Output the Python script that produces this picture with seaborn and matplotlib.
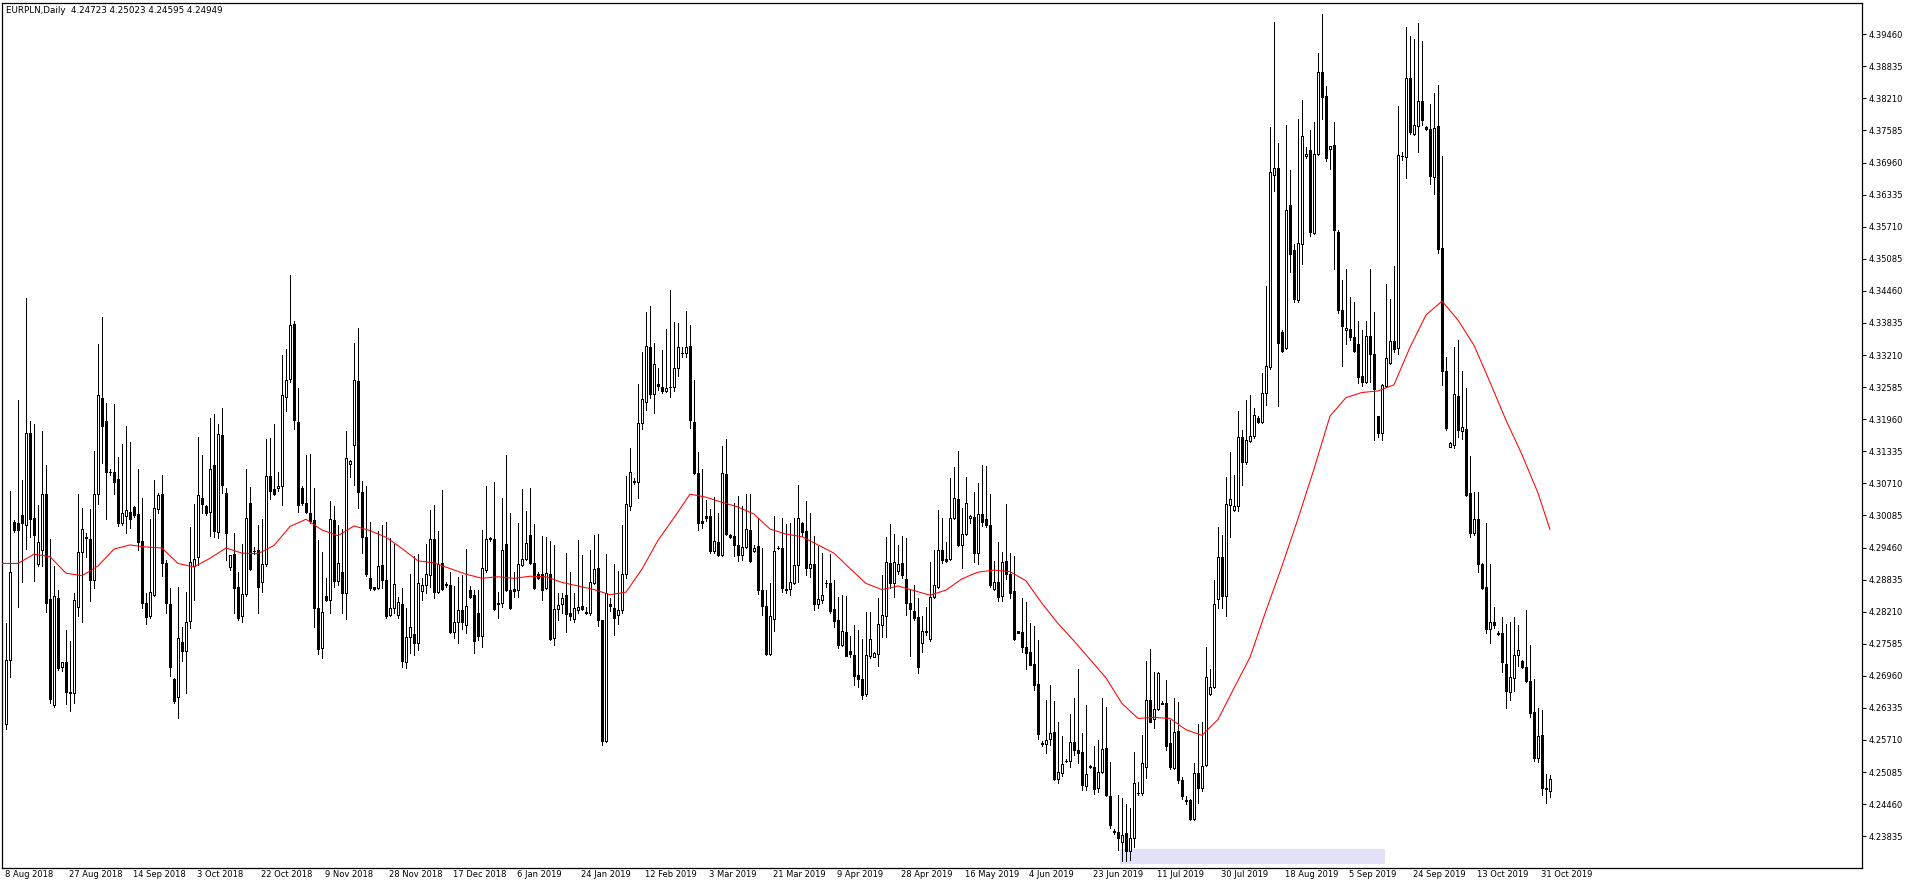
import numpy as np
import pandas as pd
import matplotlib
matplotlib.use("Agg")
import matplotlib.pyplot as plt
import matplotlib.transforms as mtransforms
import seaborn as sns

# EURPLN daily bars, bar 1 (9 Aug 2018) .. bar 387 (4 Nov 2019)
opens = [
    4.2602, 4.2727, 4.2995, 4.2993, 4.3009, 4.2990, 4.3170, 4.3003, 4.2913, 4.2941,
    4.3050, 4.2845, 4.2640, 4.2847, 4.2713, 4.2723, 4.2664, 4.2662, 4.2830, 4.2938,
    4.2965, 4.2962, 4.2882, 4.3050, 4.3237, 4.3192, 4.3093, 4.3093, 4.3080, 4.2993,
    4.3008, 4.3015, 4.3024, 4.3011, 4.2959, 4.2838, 4.2813, 4.2853, 4.3021, 4.3050,
    4.2915, 4.2836, 4.2690, 4.2654, 4.2761, 4.2745, 4.2802, 4.2909, 4.2928, 4.3042,
    4.3026, 4.3015, 4.3106, 4.2977, 4.3165, 4.3052, 4.2908, 4.2934, 4.2869, 4.2812,
    4.2855, 4.3032, 4.2940, 4.2941, 4.2878, 4.2913, 4.3085, 4.3059, 4.3061, 4.3065,
    4.3240, 4.3274, 4.3381, 4.3190, 4.3061, 4.3032, 4.3013, 4.3000, 4.2828, 4.2750,
    4.2852, 4.2844, 4.3000, 4.2880, 4.2898, 4.2857, 4.3108, 4.3145, 4.3270, 4.3054,
    4.2967, 4.2886, 4.2869, 4.2867, 4.2912, 4.2883, 4.2815, 4.2828, 4.2815, 4.2836,
    4.2722, 4.2772, 4.2777, 4.2759, 4.2862, 4.2872, 4.2892, 4.2962, 4.2860, 4.2915,
    4.2874, 4.2873, 4.2781, 4.2800, 4.2824, 4.2795, 4.2864, 4.2853, 4.2819, 4.2774,
    4.2903, 4.2963, 4.2962, 4.2838, 4.2838, 4.2953, 4.2864, 4.2865, 4.2864, 4.2911,
    4.2923, 4.2970, 4.2915, 4.2894, 4.2894, 4.2868, 4.2894, 4.2769, 4.2826, 4.2835,
    4.2853, 4.2819, 4.2806, 4.2825, 4.2832, 4.2820, 4.2818, 4.2877, 4.2906, 4.2804,
    4.2569, 4.2835, 4.2828, 4.2815, 4.2825, 4.2894, 4.3026, 4.3074, 4.3074, 4.3188,
    4.3230, 4.3336, 4.3245, 4.3265, 4.3258, 4.3250, 4.3258, 4.3258, 4.3295, 4.3325,
    4.3325, 4.3339, 4.3190, 4.3092, 4.2997, 4.3008, 4.3008, 4.2939, 4.2957, 4.2931,
    4.3090, 4.2970, 4.2968, 4.2951, 4.2931, 4.2947, 4.2981, 4.2939, 4.2948, 4.2864,
    4.2832, 4.2739, 4.2807, 4.2946, 4.2946, 4.2863, 4.2866, 4.2877, 4.2911, 4.2993,
    4.2978, 4.2907, 4.2913, 4.2835, 4.2844, 4.2877, 4.2877, 4.2826, 4.2805, 4.2756,
    4.2782, 4.2745, 4.2737, 4.2698, 4.2690, 4.2660, 4.2735, 4.2733, 4.2739, 4.2795,
    4.2813, 4.2915, 4.2876, 4.2901, 4.2915, 4.2884, 4.2838, 4.2822, 4.2810, 4.2759,
    4.2784, 4.2767, 4.2850, 4.2870, 4.2941, 4.2923, 4.2923, 4.3003, 4.3040, 4.2950,
    4.2972, 4.3003, 4.3006, 4.2936, 4.3012, 4.3001, 4.2990, 4.2866, 4.2878, 4.2852,
    4.2920, 4.2894, 4.2861, 4.2783, 4.2781, 4.2753, 4.2742, 4.2720, 4.2680, 4.2565,
    4.2563, 4.2573, 4.2586, 4.2495, 4.2506, 4.2531, 4.2531, 4.2568, 4.2552, 4.2547,
    4.2481, 4.2521, 4.2519, 4.2477, 4.2508, 4.2555, 4.2462, 4.2393, 4.2392, 4.2373,
    4.2389, 4.2355, 4.2380, 4.2467, 4.2467, 4.2519, 4.2649, 4.2612, 4.2631, 4.2644,
    4.2644, 4.2565, 4.2516, 4.2588, 4.2494, 4.2455, 4.2454, 4.2418, 4.2507, 4.2478,
    4.2523, 4.2661, 4.2675, 4.2845, 4.2928, 4.2851, 4.3029, 4.3020, 4.3027, 4.3161,
    4.3112, 4.3153, 4.3164, 4.3199, 4.3191, 4.3247, 4.3297, 4.3672, 4.3686, 4.3366,
    4.3334, 4.3613, 4.3526, 4.3429, 4.3537, 4.3708, 4.3721, 4.3559, 4.3712, 4.3872,
    4.3826, 4.3723, 4.3731, 4.3561, 4.3409, 4.3369, 4.3372, 4.3356, 4.3342, 4.3280,
    4.3269, 4.3358, 4.3323, 4.3202, 4.3170, 4.3260, 4.3305, 4.3348, 4.3335, 4.3709,
    4.3706, 4.3860, 4.3751, 4.3768, 4.3816, 4.3766, 4.3761, 4.3668, 4.3768, 4.3530,
    4.3290, 4.3142, 4.3145, 4.3241, 4.3172, 4.3177, 4.3052, 4.2974, 4.3001, 4.2913,
    4.2870, 4.2787, 4.2800, 4.2780, 4.2780, 4.2719, 4.2664, 4.2692, 4.2736, 4.2724,
    4.2714, 4.2686, 4.2626, 4.2535, 4.2581, 4.2477, 4.24723,
]
highs = [
    4.2798, 4.3057, 4.2999, 4.3233, 4.3078, 4.3433, 4.3193, 4.3187, 4.3029, 4.3173,
    4.3107, 4.2963, 4.2909, 4.2863, 4.2723, 4.2786, 4.2763, 4.2857, 4.3050, 4.3023,
    4.2975, 4.3021, 4.3134, 4.3342, 4.3396, 4.3227, 4.3098, 4.3226, 4.3123, 4.3147,
    4.3183, 4.3151, 4.3027, 4.3099, 4.3042, 4.2857, 4.3001, 4.3078, 4.3053, 4.3087,
    4.2922, 4.2868, 4.2691, 4.2870, 4.2792, 4.2860, 4.2985, 4.3030, 4.3161, 4.3126,
    4.3029, 4.3198, 4.3207, 4.3187, 4.3217, 4.3061, 4.2932, 4.2974, 4.2899, 4.2952,
    4.3098, 4.3063, 4.2947, 4.2990, 4.3001, 4.3157, 4.3159, 4.3187, 4.3093, 4.3321,
    4.3333, 4.3477, 4.3387, 4.3256, 4.3065, 4.3126, 4.3128, 4.3061, 4.2961, 4.2937,
    4.2886, 4.3037, 4.3027, 4.2989, 4.2982, 4.3172, 4.3117, 4.3345, 4.3373, 4.3076,
    4.3066, 4.2995, 4.2870, 4.2978, 4.2989, 4.2995, 4.2964, 4.2953, 4.2849, 4.2867,
    4.2828, 4.2894, 4.2929, 4.2933, 4.2886, 4.2953, 4.3019, 4.3029, 4.2978, 4.3058,
    4.2878, 4.2899, 4.2871, 4.2889, 4.2892, 4.2944, 4.2871, 4.2863, 4.2863, 4.2980,
    4.3066, 4.2967, 4.3074, 4.2860, 4.3042, 4.3126, 4.3014, 4.2899, 4.2994, 4.3060,
    4.3018, 4.3061, 4.2991, 4.2899, 4.2968, 4.2966, 4.2958, 4.2951, 4.2857, 4.2857,
    4.2935, 4.2898, 4.2857, 4.2960, 4.2931, 4.2831, 4.2942, 4.2971, 4.2972, 4.2804,
    4.2934, 4.2848, 4.2913, 4.2900, 4.2990, 4.3086, 4.3140, 4.3081, 4.3265, 4.3326,
    4.3404, 4.3416, 4.3345, 4.3295, 4.3331, 4.3371, 4.3448, 4.3385, 4.3384, 4.3336,
    4.3407, 4.3380, 4.3273, 4.3133, 4.3099, 4.3039, 4.3021, 4.3044, 4.3014, 4.3144,
    4.3157, 4.2972, 4.3033, 4.3046, 4.3026, 4.3050, 4.3050, 4.2950, 4.3003, 4.2945,
    4.2864, 4.2877, 4.3007, 4.2948, 4.3003, 4.2992, 4.2993, 4.3003, 4.3068, 4.2996,
    4.3036, 4.3014, 4.2968, 4.2949, 4.2935, 4.2883, 4.2933, 4.2883, 4.2850, 4.2853,
    4.2851, 4.2774, 4.2795, 4.2785, 4.2767, 4.2820, 4.2820, 4.2743, 4.2847, 4.2892,
    4.2967, 4.2992, 4.2972, 4.2951, 4.2969, 4.2964, 4.2864, 4.2873, 4.2847, 4.2813,
    4.2831, 4.2918, 4.2941, 4.3019, 4.3003, 4.2957, 4.3081, 4.3102, 4.3134, 4.3022,
    4.3084, 4.3009, 4.3055, 4.3071, 4.3106, 4.3105, 4.3050, 4.2920, 4.2957, 4.2938,
    4.3031, 4.2936, 4.2930, 4.2784, 4.2847, 4.2840, 4.2798, 4.2794, 4.2766, 4.2569,
    4.2649, 4.2678, 4.2647, 4.2606, 4.2578, 4.2533, 4.2622, 4.2652, 4.2710, 4.2584,
    4.2640, 4.2523, 4.2559, 4.2571, 4.2652, 4.2635, 4.2529, 4.2397, 4.2464, 4.2458,
    4.2447, 4.2438, 4.2547, 4.2490, 4.2581, 4.2724, 4.2748, 4.2704, 4.2704, 4.2647,
    4.2688, 4.2610, 4.2652, 4.2645, 4.2499, 4.2461, 4.2456, 4.2526, 4.2602, 4.2607,
    4.2753, 4.2710, 4.2883, 4.2986, 4.2970, 4.3083, 4.3132, 4.3088, 4.3211, 4.3175,
    4.3234, 4.3243, 4.3218, 4.3202, 4.3285, 4.3456, 4.3766, 4.3969, 4.3734, 4.3369,
    4.3769, 4.3681, 4.3537, 4.3780, 4.3818, 4.3726, 4.3759, 4.3775, 4.3910, 4.3986,
    4.3845, 4.3729, 4.3775, 4.3564, 4.3467, 4.3488, 4.3434, 4.3424, 4.3388, 4.3370,
    4.3388, 4.3489, 4.3404, 4.3202, 4.3265, 4.3459, 4.3431, 4.3494, 4.3806, 4.3716,
    4.3960, 4.3942, 4.3937, 4.3967, 4.3932, 4.3768, 4.3811, 4.3831, 4.3847, 4.3709,
    4.3318, 4.3152, 4.3336, 4.3350, 4.3290, 4.3256, 4.3125, 4.3055, 4.3055, 4.2916,
    4.2994, 4.2913, 4.2830, 4.2783, 4.2810, 4.2797, 4.2800, 4.2810, 4.2795, 4.2726,
    4.2825, 4.2757, 4.2689, 4.2634, 4.2629, 4.2505, 4.25023,
]
lows = [
    4.2592, 4.2694, 4.2977, 4.2831, 4.2878, 4.2944, 4.2966, 4.2880, 4.2909, 4.2910,
    4.2821, 4.2643, 4.2636, 4.2708, 4.2706, 4.2641, 4.2627, 4.2644, 4.2812, 4.2800,
    4.2928, 4.2841, 4.2867, 4.3030, 4.3110, 4.3001, 4.3087, 4.3050, 4.2987, 4.2990,
    4.2974, 4.2984, 4.3006, 4.2941, 4.2828, 4.2797, 4.2808, 4.2851, 4.3013, 4.2891,
    4.2818, 4.2695, 4.2643, 4.2614, 4.2724, 4.2662, 4.2789, 4.2844, 4.2912, 4.3013,
    4.3010, 4.2969, 4.2966, 4.2964, 4.3052, 4.2922, 4.2902, 4.2819, 4.2805, 4.2800,
    4.2851, 4.2902, 4.2934, 4.2818, 4.2860, 4.2909, 4.3040, 4.3048, 4.3057, 4.3029,
    4.3211, 4.3269, 4.3176, 4.3016, 4.3029, 4.3013, 4.2993, 4.2792, 4.2739, 4.2730,
    4.2841, 4.2819, 4.2870, 4.2873, 4.2818, 4.2806, 4.3084, 4.3067, 4.3023, 4.2935,
    4.2891, 4.2863, 4.2863, 4.2865, 4.2867, 4.2808, 4.2812, 4.2818, 4.2808, 4.2714,
    4.2711, 4.2740, 4.2737, 4.2746, 4.2844, 4.2857, 4.2870, 4.2847, 4.2857, 4.2863,
    4.2870, 4.2779, 4.2769, 4.2759, 4.2788, 4.2779, 4.2847, 4.2741, 4.2766, 4.2753,
    4.2899, 4.2959, 4.2824, 4.2809, 4.2831, 4.2862, 4.2827, 4.2850, 4.2850, 4.2909,
    4.2922, 4.2914, 4.2866, 4.2884, 4.2844, 4.2866, 4.2766, 4.2757, 4.2805, 4.2818,
    4.2782, 4.2805, 4.2801, 4.2818, 4.2824, 4.2816, 4.2815, 4.2874, 4.2793, 4.2562,
    4.2567, 4.2822, 4.2776, 4.2796, 4.2818, 4.2887, 4.3020, 4.3070, 4.3042, 4.3177,
    4.3213, 4.3237, 4.3208, 4.3252, 4.3247, 4.3248, 4.3240, 4.3250, 4.3280, 4.3317,
    4.3317, 4.3179, 4.3090, 4.2981, 4.2984, 4.2997, 4.2935, 4.2935, 4.2930, 4.2930,
    4.2971, 4.2965, 4.2929, 4.2919, 4.2922, 4.2945, 4.2918, 4.2937, 4.2856, 4.2815,
    4.2737, 4.2737, 4.2783, 4.2944, 4.2859, 4.2857, 4.2853, 4.2875, 4.2878, 4.2968,
    4.2892, 4.2889, 4.2824, 4.2828, 4.2837, 4.2870, 4.2819, 4.2792, 4.2750, 4.2754,
    4.2735, 4.2733, 4.2678, 4.2675, 4.2650, 4.2657, 4.2731, 4.2732, 4.2715, 4.2772,
    4.2772, 4.2868, 4.2850, 4.2894, 4.2886, 4.2814, 4.2735, 4.2805, 4.2702, 4.2743,
    4.2776, 4.2764, 4.2847, 4.2868, 4.2915, 4.2918, 4.2922, 4.3001, 4.2948, 4.2907,
    4.2970, 4.2994, 4.2918, 4.2913, 4.2988, 4.2986, 4.2870, 4.2864, 4.2842, 4.2842,
    4.2884, 4.2847, 4.2766, 4.2779, 4.2743, 4.2709, 4.2717, 4.2669, 4.2572, 4.2559,
    4.2545, 4.2561, 4.2493, 4.2488, 4.2500, 4.2529, 4.2519, 4.2542, 4.2526, 4.2473,
    4.2474, 4.2516, 4.2466, 4.2469, 4.2506, 4.2461, 4.2399, 4.2387, 4.2357, 4.2336,
    4.2336, 4.2337, 4.2363, 4.2464, 4.2464, 4.2497, 4.2607, 4.2594, 4.2630, 4.2641,
    4.2552, 4.2514, 4.2514, 4.2488, 4.2456, 4.2447, 4.2415, 4.2415, 4.2448, 4.2472,
    4.2521, 4.2659, 4.2672, 4.2829, 4.2829, 4.2813, 4.2966, 4.3018, 4.3018, 4.3067,
    4.3109, 4.3151, 4.3159, 4.3188, 4.3188, 4.3224, 4.3294, 4.3640, 4.3221, 4.3326,
    4.3332, 4.3483, 4.3424, 4.3424, 4.3499, 4.3704, 4.3553, 4.3556, 4.3710, 4.3780,
    4.3699, 4.3683, 4.3488, 4.3402, 4.3299, 4.3342, 4.3351, 4.3326, 4.3267, 4.3261,
    4.3267, 4.3268, 4.3155, 4.3162, 4.3155, 4.3258, 4.3303, 4.3326, 4.3323, 4.3701,
    4.3665, 4.3751, 4.3749, 4.3716, 4.3769, 4.3759, 4.3655, 4.3635, 4.3519, 4.3263,
    4.3175, 4.3141, 4.3139, 4.3162, 4.3157, 4.3046, 4.2966, 4.2971, 4.2898, 4.2865,
    4.2780, 4.2760, 4.2790, 4.2775, 4.2704, 4.2634, 4.2649, 4.2666, 4.2716, 4.2712,
    4.2684, 4.2616, 4.2531, 4.2528, 4.2463, 4.2448, 4.24595,
]
closes = [
    4.2727, 4.2898, 4.2981, 4.2981, 4.2993, 4.3170, 4.3001, 4.2971, 4.2956, 4.3050,
    4.2838, 4.2651, 4.2851, 4.2711, 4.2723, 4.2664, 4.2662, 4.2844, 4.2938, 4.2982,
    4.2966, 4.2882, 4.3050, 4.3243, 4.3183, 4.3093, 4.3094, 4.3073, 4.2993, 4.3013,
    4.3019, 4.3001, 4.3009, 4.2956, 4.2838, 4.2810, 4.2859, 4.3023, 4.3048, 4.2915,
    4.2838, 4.2714, 4.2646, 4.2769, 4.2745, 4.2801, 4.2917, 4.2923, 4.3048, 4.3030,
    4.3013, 4.3098, 4.2979, 4.3167, 4.3067, 4.2974, 4.2931, 4.2867, 4.2808, 4.2856,
    4.3003, 4.2904, 4.2939, 4.2870, 4.2913, 4.3085, 4.3057, 4.3050, 4.3066, 4.3244,
    4.3272, 4.3379, 4.3195, 4.3029, 4.3032, 4.3015, 4.2997, 4.2828, 4.2748, 4.2820,
    4.2843, 4.3001, 4.2880, 4.2915, 4.2857, 4.3120, 4.3115, 4.3272, 4.3054, 4.2967,
    4.2894, 4.2867, 4.2866, 4.2910, 4.2883, 4.2813, 4.2828, 4.2875, 4.2839, 4.2724,
    4.2771, 4.2792, 4.2759, 4.2876, 4.2873, 4.2894, 4.2962, 4.2860, 4.2914, 4.2866,
    4.2872, 4.2782, 4.2800, 4.2824, 4.2801, 4.2833, 4.2850, 4.2764, 4.2774, 4.2907,
    4.2962, 4.2964, 4.2826, 4.2835, 4.2942, 4.2864, 4.2829, 4.2862, 4.2913, 4.2924,
    4.2954, 4.2915, 4.2868, 4.2886, 4.2864, 4.2896, 4.2768, 4.2827, 4.2834, 4.2848,
    4.2816, 4.2813, 4.2829, 4.2831, 4.2827, 4.2819, 4.2879, 4.2905, 4.2804, 4.2569,
    4.2857, 4.2832, 4.2809, 4.2825, 4.2894, 4.3031, 4.3093, 4.3075, 4.3188, 4.3235,
    4.3339, 4.3245, 4.3303, 4.3260, 4.3250, 4.3256, 4.3259, 4.3295, 4.3336, 4.3324,
    4.3336, 4.3194, 4.3092, 4.2994, 4.2994, 4.3004, 4.2939, 4.2958, 4.2931, 4.3091,
    4.2972, 4.2966, 4.2950, 4.2931, 4.2947, 4.2982, 4.2919, 4.2945, 4.2863, 4.2832,
    4.2739, 4.2812, 4.2940, 4.2946, 4.2867, 4.2866, 4.2878, 4.2912, 4.3003, 4.2977,
    4.2907, 4.2913, 4.2835, 4.2845, 4.2853, 4.2877, 4.2823, 4.2802, 4.2756, 4.2783,
    4.2735, 4.2739, 4.2695, 4.2689, 4.2659, 4.2737, 4.2768, 4.2740, 4.2797, 4.2815,
    4.2918, 4.2877, 4.2918, 4.2913, 4.2892, 4.2838, 4.2826, 4.2809, 4.2714, 4.2783,
    4.2781, 4.2849, 4.2873, 4.2941, 4.2922, 4.2920, 4.3003, 4.3042, 4.2950, 4.2972,
    4.3032, 4.3007, 4.2935, 4.3012, 4.2996, 4.2990, 4.2873, 4.2878, 4.2850, 4.2917,
    4.2894, 4.2857, 4.2767, 4.2780, 4.2753, 4.2741, 4.2718, 4.2678, 4.2582, 4.2564,
    4.2570, 4.2584, 4.2495, 4.2508, 4.2524, 4.2530, 4.2568, 4.2552, 4.2545, 4.2484,
    4.2505, 4.2519, 4.2475, 4.2508, 4.2553, 4.2464, 4.2406, 4.2391, 4.2380, 4.2386,
    4.2354, 4.2380, 4.2487, 4.2468, 4.2526, 4.2649, 4.2607, 4.2631, 4.2701, 4.2642,
    4.2560, 4.2519, 4.2586, 4.2494, 4.2461, 4.2453, 4.2418, 4.2507, 4.2478, 4.2521,
    4.2694, 4.2675, 4.2836, 4.2928, 4.2851, 4.3031, 4.3040, 4.3027, 4.3161, 4.3112,
    4.3155, 4.3164, 4.3204, 4.3191, 4.3247, 4.3299, 4.3678, 4.3685, 4.3345, 4.3329,
    4.3604, 4.3518, 4.3431, 4.3539, 4.3748, 4.3713, 4.3561, 4.3712, 4.3872, 4.3823,
    4.3704, 4.3729, 4.3564, 4.3409, 4.3377, 4.3374, 4.3356, 4.3329, 4.3278, 4.3269,
    4.3359, 4.3323, 4.3255, 4.3170, 4.3263, 4.3315, 4.3348, 4.3333, 4.3711, 4.3708,
    4.3860, 4.3756, 4.3769, 4.3816, 4.3779, 4.3761, 4.3670, 4.3764, 4.3528, 4.3290,
    4.3179, 4.3149, 4.3246, 4.3174, 4.3180, 4.3049, 4.2974, 4.3001, 4.2913, 4.2867,
    4.2787, 4.2800, 4.2795, 4.2778, 4.2722, 4.2666, 4.2694, 4.2736, 4.2747, 4.2714,
    4.2686, 4.2624, 4.2535, 4.2579, 4.2478, 4.2475, 4.24949,
]

# red moving average, read every 4th bar
ma_bars = list(range(0, 385, 4)) + [387]
ma_values = [
    4.2915, 4.2915, 4.2933, 4.2928, 4.2896, 4.2891, 4.2910, 4.2943, 4.2951, 4.2947,
    4.2945, 4.2915, 4.2908, 4.2925, 4.2945, 4.2935, 4.2934, 4.2950, 4.2987, 4.3001,
    4.2980, 4.2969, 4.2988, 4.2979, 4.2966, 4.2944, 4.2920, 4.2916, 4.2905, 4.2894,
    4.2886, 4.2889, 4.2886, 4.2890, 4.2889, 4.2878, 4.2871, 4.2864, 4.2854, 4.2859,
    4.2904, 4.2960, 4.3004, 4.3050, 4.3044, 4.3034, 4.3025, 4.3011, 4.2982, 4.2972,
    4.2967, 4.2951, 4.2935, 4.2905, 4.2876, 4.2864, 4.2871, 4.2862, 4.2853, 4.2863,
    4.2885, 4.2898, 4.2902, 4.2899, 4.2881, 4.2837, 4.2798, 4.2764, 4.2728, 4.2692,
    4.2642, 4.2613, 4.2615, 4.2613, 4.2591, 4.2580, 4.2611, 4.2672, 4.2732, 4.2823,
    4.2910, 4.3002, 4.3099, 4.3202, 4.3238, 4.3248, 4.3251, 4.3263, 4.3336, 4.3399,
    4.3426, 4.3389, 4.3340, 4.3268, 4.3194, 4.3127, 4.3052, 4.2981,
]

date_labels = [
    "8 Aug 2018", "27 Aug 2018", "14 Sep 2018", "3 Oct 2018", "22 Oct 2018",
    "9 Nov 2018", "28 Nov 2018", "17 Dec 2018", "6 Jan 2019", "24 Jan 2019",
    "12 Feb 2019", "3 Mar 2019", "21 Mar 2019", "9 Apr 2019", "28 Apr 2019",
    "16 May 2019", "4 Jun 2019", "23 Jun 2019", "11 Jul 2019", "30 Jul 2019",
    "18 Aug 2019", "5 Sep 2019", "24 Sep 2019", "13 Oct 2019", "31 Oct 2019",
]
date_bars = list(range(0, 385, 16))

price_ticks = [
    4.23835, 4.24460, 4.25085, 4.25710, 4.26335, 4.26960, 4.27585, 4.28210,
    4.28835, 4.29460, 4.30085, 4.30710, 4.31335, 4.31960, 4.32585, 4.33210,
    4.33835, 4.34460, 4.35085, 4.35710, 4.36335, 4.36960, 4.37585, 4.38210,
    4.38835, 4.39460,
]

header = "EURPLN,Daily  4.24723 4.25023 4.24595 4.24949"

sns.set_style("white")
plt.rcParams["font.family"] = ["DejaVu Sans"]

df = pd.DataFrame({"open": opens, "high": highs, "low": lows, "close": closes})
df["bar"] = np.arange(1, len(df) + 1)
up = df["close"] >= df["open"]

W, H = 1916, 888
fig = plt.figure(figsize=(W / 100, H / 100), dpi=100)
ax = fig.add_axes([2 / W, 20 / H, 1860 / W, 865 / H])

# wicks
ax.vlines(df["bar"], df["low"], df["high"], color="black", lw=0.72,
          zorder=2, antialiased=False)
# bodies: hollow for up bars, filled for down bars
ax.bar(df.loc[up, "bar"], (df["close"] - df["open"])[up], bottom=df.loc[up, "open"],
       width=0.5, color="white", edgecolor="black", lw=0.72, zorder=3,
       antialiased=False)
ax.bar(df.loc[~up, "bar"], (df["open"] - df["close"])[~up], bottom=df.loc[~up, "close"],
       width=0.5, color="black", edgecolor="black", lw=0.72, zorder=3,
       antialiased=False)

sns.lineplot(x=ma_bars, y=ma_values, color="red", lw=0.75, ax=ax, zorder=4)

# lavender strip along the bottom
ax.axvspan(279.5, 345.75, ymin=0.005, ymax=0.022, color="#e1e1f7", lw=0, zorder=1)

ax.set_xlim(0, 465)
ax.set_ylim(4.23216, 4.40068)

ax.yaxis.tick_right()
ax.set_yticks(price_ticks)
ax.set_yticklabels([f"{p:.5f}" for p in price_ticks])
ax.tick_params(axis="y", direction="out", length=3, width=0.75, pad=1.5,
               labelsize=6, colors="black")

ax.set_xticks(date_bars)
ax.set_xticklabels(date_labels, ha="left")
ax.tick_params(axis="x", direction="out", length=6, width=0.75, pad=-4.5,
               labelsize=6, colors="black")
shift = mtransforms.ScaledTranslation(2.5 / 72, 0, fig.dpi_scale_trans)
for lab in ax.get_xticklabels():
    lab.set_transform(lab.get_transform() + shift)

for s in ax.spines.values():
    s.set_visible(True)
    s.set_color("black")
    s.set_linewidth(0.9)

ax.set_xlabel("")
ax.set_ylabel("")
ax.text(0.002, 0.997, header, transform=ax.transAxes, va="top", ha="left",
        fontsize=6.3, color="black")

fig.savefig("out.png", dpi=100, facecolor="white")
